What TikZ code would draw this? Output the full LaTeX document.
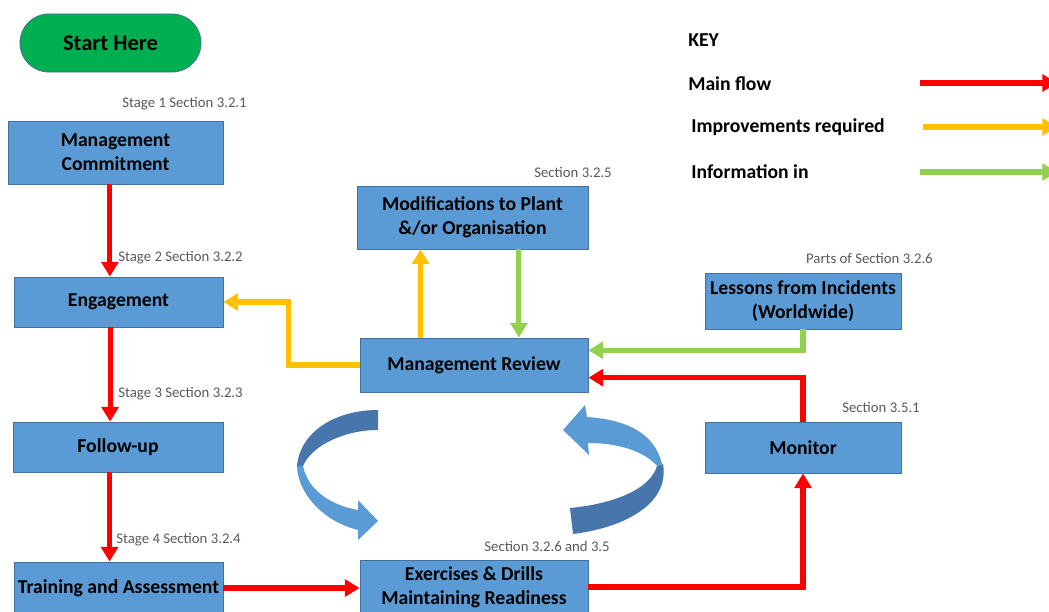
\documentclass[tikz,border=0pt]{standalone}
\usepackage{fontspec}
\setmainfont{Carlito}
\usetikzlibrary{arrows.meta}
\definecolor{boxblue}{HTML}{5B9BD5}
\definecolor{edgeblue}{HTML}{41719C}
\definecolor{darkblue}{HTML}{4676AB}
\definecolor{startgreen}{HTML}{00B050}
\definecolor{flowred}{HTML}{FF0000}
\definecolor{flowamber}{HTML}{FFC000}
\definecolor{flowgreen}{HTML}{92D050}
\definecolor{notegray}{HTML}{595959}

\begin{document}
\begin{tikzpicture}[x=0.025cm, y=-0.025cm,
    box/.style={draw=edgeblue, fill=boxblue, line width=0.6pt, align=center, inner sep=2pt,
        font=\fontsize{14}{17}\selectfont\bfseries},
    note/.style={anchor=east, text=notegray, inner sep=0pt, font=\fontsize{10.5}{12}\selectfont},
    keytext/.style={anchor=west, inner sep=0pt, font=\fontsize{14}{17}\selectfont\bfseries},
    flowline/.style={line width=3.6pt, -{Triangle[length=10.5pt, width=12pt]}},
    mainflow/.style={flowline, draw=flowred},
    improve/.style={flowline, draw=flowamber},
    info/.style={flowline, draw=flowgreen}]
    \useasboundingbox (0,0) rectangle (1049,611);

    \node[draw=edgeblue, fill=startgreen, line width=0.6pt, rounded corners=0.72cm,
        minimum width=4.525cm, minimum height=1.45cm,
        font=\fontsize{16}{19}\selectfont\bfseries] (start) at (110.5,43) {Start Here};

    \node[box, minimum width=5.375cm, minimum height=1.575cm] (mc) at (115.5,152.5) {Management\\Commitment};
    \node[box, minimum width=5.225cm, minimum height=1.25cm] (eng) at (118.5,302) {Engagement};
    \node[box, minimum width=5.25cm, minimum height=1.25cm] (fu) at (118,447) {Follow-up};
    \node[box, minimum width=5.225cm, minimum height=1.3cm] (tr) at (118.5,588) {Training and Assessment};
    \node[box, minimum width=5.775cm, minimum height=1.575cm] (mod) at (472.5,217.5) {Modifications to Plant\\\&/or Organisation};
    \node[box, minimum width=5.7cm, minimum height=1.35cm] (mr) at (474,365) {Management Review};
    \node[box, minimum width=4.9cm, minimum height=1.4cm] (les) at (803,301) {Lessons from Incidents\\(Worldwide)};
    \node[box, minimum width=4.9cm, minimum height=1.275cm] (mon) at (803,447.5) {Monitor};
    \node[box, minimum width=5.7cm, minimum height=1.35cm] (ex) at (474,587) {Exercises \& Drills\\Maintaining Readiness};

    \node[note] (n1) at (247,104) {Stage 1 Section 3.2.1};
    \node[note] (n2) at (243,258) {Stage 2 Section 3.2.2};
    \node[note] (n3) at (243,394) {Stage 3 Section 3.2.3};
    \node[note] (n4) at (241,540) {Stage 4 Section 3.2.4};
    \node[note] (n5) at (612,172) {Section 3.2.5};
    \node[note] (n6) at (933,258) {Parts of Section 3.2.6};
    \node[note] (n7) at (920,407) {Section 3.5.1};
    \node[note] (n8) at (610,546) {Section 3.2.6 and 3.5};

    \node[keytext] (key) at (688,40) {KEY};
    \node[keytext] (kmain) at (688,84) {Main flow};
    \node[keytext] (kimp) at (691,127) {Improvements required};
    \node[keytext] (kinfo) at (691,172) {Information in};
    \coordinate (kmainA) at (920,83);
    \coordinate (kmainB) at (1057,83);
    \coordinate (kimpA) at (923,127);
    \coordinate (kimpB) at (1057,127);
    \coordinate (kinfoA) at (920,172);
    \coordinate (kinfoB) at (1057,172);
    \draw[mainflow] (kmainA) -- (kmainB);
    \draw[improve] (kimpA) -- (kimpB);
    \draw[info] (kinfoA) -- (kinfoB);

    \draw[mainflow] ([xshift=-4pt]mc.south) -- ([xshift=-4pt]mc.south |- eng.north);
    \draw[mainflow] ([xshift=-6pt]eng.south) -- ([xshift=-6pt]eng.south |- fu.north);
    \draw[mainflow] ([xshift=-6pt]fu.south) -- ([xshift=-6pt]fu.south |- tr.north);
    \draw[mainflow] (tr.east) -- (tr.east -| ex.west);
    \draw[mainflow] (ex.east) -| (mon.south);
    \draw[mainflow] (mon.north) |- ([yshift=-9pt]mr.east);
    \draw[info] (les.south) |- ([yshift=10.5pt]mr.east);
    \draw[info] ([xshift=33pt]mod.south) -- ([xshift=33pt]mod.south |- mr.north);
    \draw[improve] ([xshift=-38pt]mr.north) -- ([xshift=-38pt]mr.north |- mod.south);
    \draw[improve] (mr.west) -- ++(-71,0) |- (eng.east);

    \fill[darkblue] (378,410) .. controls (335,410) and (300,432) .. (297,466)
        -- (303,466) .. controls (312,445) and (345,430) .. (378,430) -- cycle;
    \fill[boxblue] (297,466) .. controls (298,495) and (325,522) .. (358,530)
        -- (358,540) -- (378,521) -- (358,500) -- (358,510)
        .. controls (330,505) and (308,490) .. (303,466) -- cycle;
    \fill[boxblue] (563,430) -- (585,405) -- (587,417)
        .. controls (630,420) and (655,435) .. (662,464)
        -- (657,466) .. controls (645,452) and (620,443) .. (588,443) -- (589,455) -- cycle;
    \fill[darkblue] (657,466) -- (663,464)
        .. controls (670,505) and (622,528) .. (573,534) -- (570,508)
        .. controls (612,504) and (650,490) .. (657,466) -- cycle;
\end{tikzpicture}
\end{document}
